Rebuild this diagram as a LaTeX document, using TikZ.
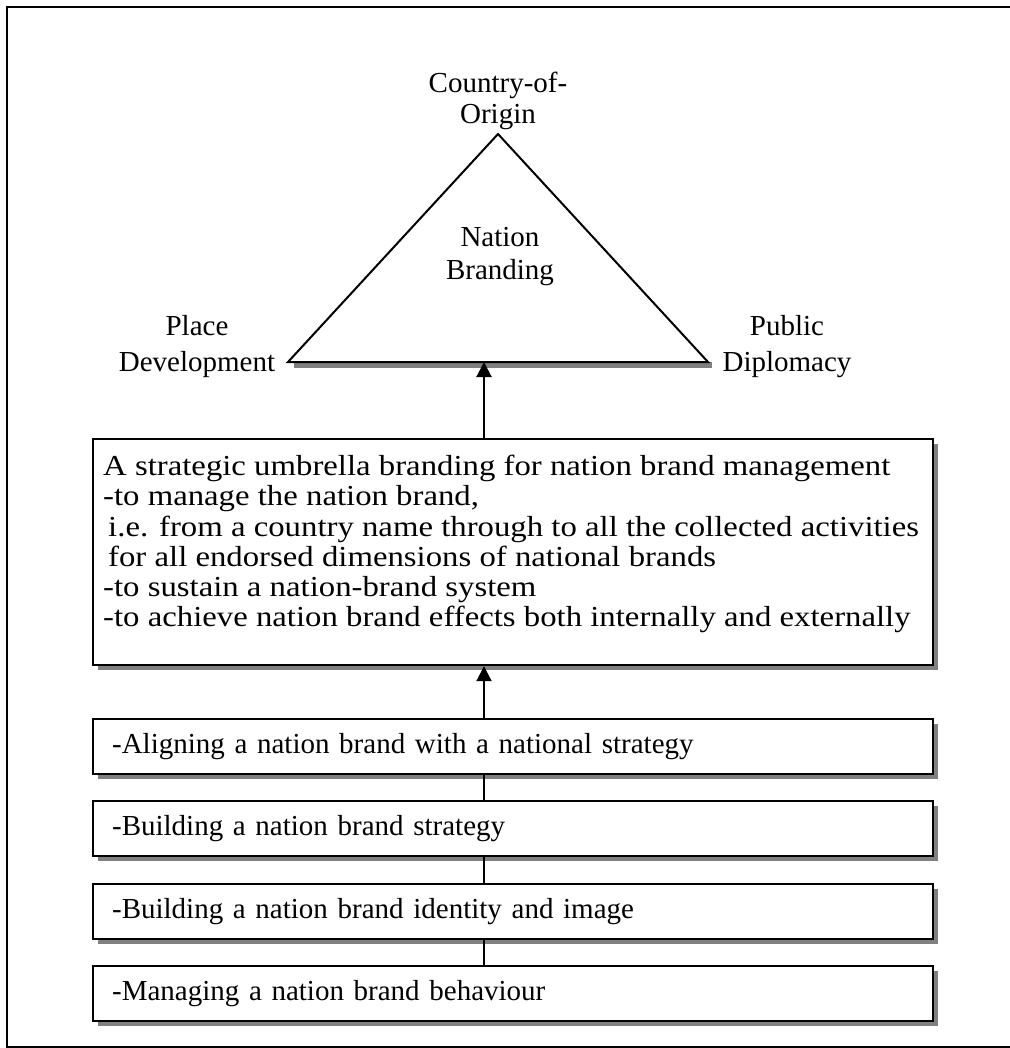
\documentclass[tikz,border=0pt]{standalone}
\usepackage{fontspec}
\setmainfont{Liberation Serif}
\newfontfamily\widetext[FakeStretch=1.13]{Liberation Serif}
\usetikzlibrary{arrows.meta,shadows,calc}

\tikzset{
  lbl/.style={align=center, inner sep=0pt},
  boxshadow/.style={drop shadow={shadow xshift=5pt, shadow yshift=-5pt, fill=black!50, opacity=1}},
  stepbox/.style={draw, line width=2.2pt, fill=white, boxshadow, anchor=north west,
    minimum width=840pt, minimum height=55pt, text width=802pt, align=left,
    inner xsep=19pt, inner ysep=0pt, font=\fontsize{29}{31}\selectfont},
  link/.style={line width=2pt},
  uparrow/.style={line width=2pt, -{Triangle[width=15pt,length=15pt]}}
}

\begin{document}
\begin{tikzpicture}[x=1pt,y=-1pt]
\useasboundingbox (0,0) rectangle (1009,1048);

% outer frame, open on the right
\draw[line width=2.2pt] (1012,7) -- (7,7) -- (7,1047) -- (1012,1047);

% nation branding triangle
\coordinate (apex) at (498,134);
\coordinate (bl) at (288,362);
\coordinate (br) at (708,362);
\coordinate (tip) at (484,362);
\fill[black!50] (294,362) rectangle (712,368);
\draw[line width=2pt, fill=white, line join=miter] (bl) -- (apex) -- (br) -- cycle;

\node[lbl, font=\fontsize{29}{31}\selectfont] (coo) at (498,100.5) {Country-of-\\Origin};
\node[lbl, font=\fontsize{29}{33}\selectfont] (nb) at (500,257) {Nation\\Branding};
\node[lbl, font=\fontsize{29}{36}\selectfont] (pd) at (197,347) {Place\\Development};
\node[lbl, font=\fontsize{29}{36}\selectfont] (pub) at (787,347) {Public\\Diplomacy};

% umbrella box
\node[draw, line width=2.2pt, fill=white, boxshadow, anchor=north west,
  minimum width=840pt, minimum height=226pt, inner sep=0pt] (main) at (92,438) {};
\node[anchor=north west, align=left, inner sep=0pt, font=\widetext\fontsize{29}{30.2}\selectfont]
  (maintext) at (103,455) {A strategic umbrella branding for nation brand management\\
  -to manage the nation brand,\\
  \hspace{5pt}i.e. from a country name through to all the collected activities\\
  \hspace{5pt}for all endorsed dimensions of national brands\\
  -to sustain a nation-brand system\\
  -to achieve nation brand effects both internally and externally};

% activity boxes
\node[stepbox] (s1) at (92,718) {-Aligning a nation brand with a national strategy};
\node[stepbox] (s2) at (92,800) {-Building a nation brand strategy};
\node[stepbox] (s3) at (92,883) {-Building a nation brand identity and image};
\node[stepbox] (s4) at (92,965) {-Managing a nation brand behaviour};

% connectors
\draw[uparrow] (main.north -| tip) -- (tip);
\draw[uparrow] (s1.north -| tip) -- (main.south -| tip);
\draw[link] (s2.north -| tip) -- (s1.south -| tip);
\draw[link] (s3.north -| tip) -- (s2.south -| tip);
\draw[link] (s4.north -| tip) -- (s3.south -| tip);
\end{tikzpicture}
\end{document}
